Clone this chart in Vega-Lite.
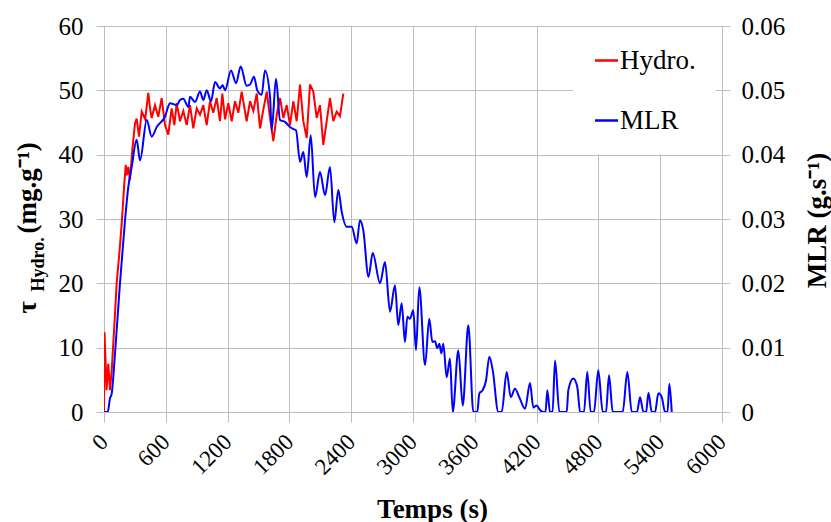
{
  "$schema": "https://vega.github.io/schema/vega-lite/v6.json",
  "width": 618,
  "height": 386,
  "autosize": {"type": "none"},
  "padding": {"left": 104, "top": 26, "right": 109, "bottom": 110},
  "background": "white",
  "config": {
    "font": "Liberation Serif",
    "view": {"stroke": null},
    "axis": {
      "gridColor": "#bdbdbd",
      "gridWidth": 1,
      "domainColor": "#bdbdbd",
      "tickColor": "#bdbdbd",
      "labelFont": "Liberation Serif",
      "labelColor": "#000000",
      "labelFontSize": 25,
      "titleFont": "Liberation Serif",
      "titleColor": "#000000",
      "titleFontSize": 27,
      "titleFontWeight": "bold"
    }
  },
  "datasets": {
    "hydro": [
      {"t": 0, "v": 0}, {"t": 5, "v": 12.4}, {"t": 25, "v": 3.4}, {"t": 41, "v": 7.5}, {"t": 58, "v": 3.4},
      {"t": 75, "v": 6.5}, {"t": 90, "v": 10.6}, {"t": 107, "v": 15.3}, {"t": 123, "v": 20}, {"t": 146, "v": 24.1},
      {"t": 172, "v": 29.3}, {"t": 197, "v": 35.5}, {"t": 211, "v": 38.4}, {"t": 220, "v": 36.8}, {"t": 236, "v": 38.1},
      {"t": 252, "v": 36}, {"t": 275, "v": 40.7}, {"t": 301, "v": 44.9}, {"t": 317, "v": 45.6}, {"t": 340, "v": 42.8},
      {"t": 366, "v": 46.7}, {"t": 400, "v": 45.5}, {"t": 430, "v": 49.6}, {"t": 447, "v": 47.2}, {"t": 463, "v": 45.7},
      {"t": 495, "v": 47.7}, {"t": 527, "v": 45.9}, {"t": 560, "v": 48.8}, {"t": 592, "v": 44.6}, {"t": 624, "v": 43.1},
      {"t": 657, "v": 47.2}, {"t": 683, "v": 44.6}, {"t": 706, "v": 48}, {"t": 738, "v": 45.2}, {"t": 770, "v": 46.8},
      {"t": 803, "v": 44.6}, {"t": 835, "v": 47.7}, {"t": 867, "v": 44.1}, {"t": 900, "v": 47.2}, {"t": 932, "v": 46.2},
      {"t": 964, "v": 47.7}, {"t": 997, "v": 44.6}, {"t": 1029, "v": 48.3}, {"t": 1061, "v": 46.5}, {"t": 1094, "v": 48.8},
      {"t": 1126, "v": 45.2}, {"t": 1149, "v": 49.5}, {"t": 1175, "v": 45.5}, {"t": 1207, "v": 48}, {"t": 1240, "v": 45.2},
      {"t": 1272, "v": 48.3}, {"t": 1304, "v": 46.5}, {"t": 1337, "v": 49.8}, {"t": 1369, "v": 46.7}, {"t": 1385, "v": 45.2},
      {"t": 1418, "v": 48.3}, {"t": 1450, "v": 46.8}, {"t": 1483, "v": 49.5}, {"t": 1515, "v": 44.1}, {"t": 1547, "v": 47},
      {"t": 1580, "v": 49.8}, {"t": 1612, "v": 45.7}, {"t": 1644, "v": 42.1}, {"t": 1677, "v": 46.2}, {"t": 1709, "v": 48.8},
      {"t": 1741, "v": 45.7}, {"t": 1774, "v": 47.7}, {"t": 1806, "v": 44.6}, {"t": 1838, "v": 48.3}, {"t": 1871, "v": 45.2},
      {"t": 1903, "v": 50.9}, {"t": 1935, "v": 45.2}, {"t": 1968, "v": 42.6}, {"t": 2000, "v": 50.9}, {"t": 2032, "v": 49.8},
      {"t": 2065, "v": 45.7}, {"t": 2097, "v": 47.7}, {"t": 2129, "v": 41.5}, {"t": 2162, "v": 45.2}, {"t": 2194, "v": 48.8},
      {"t": 2226, "v": 45.2}, {"t": 2259, "v": 46.7}, {"t": 2291, "v": 46.0}, {"t": 2323, "v": 49.5}
    ],
    "mlr": [
      {"t": 0, "v": 0}, {"t": 36, "v": 0}, {"t": 58, "v": 0.0021}, {"t": 75, "v": 0.0029}, {"t": 107, "v": 0.0091},
      {"t": 155, "v": 0.02}, {"t": 204, "v": 0.0298}, {"t": 236, "v": 0.035}, {"t": 269, "v": 0.0381}, {"t": 317, "v": 0.0423},
      {"t": 350, "v": 0.0391}, {"t": 415, "v": 0.0454}, {"t": 463, "v": 0.0428}, {"t": 512, "v": 0.0443}, {"t": 592, "v": 0.0459},
      {"t": 641, "v": 0.048}, {"t": 706, "v": 0.0477}, {"t": 738, "v": 0.0485}, {"t": 770, "v": 0.0487}, {"t": 819, "v": 0.0474},
      {"t": 835, "v": 0.049}, {"t": 884, "v": 0.0482}, {"t": 932, "v": 0.0498}, {"t": 964, "v": 0.0485}, {"t": 997, "v": 0.05},
      {"t": 1039, "v": 0.0483}, {"t": 1078, "v": 0.0513}, {"t": 1126, "v": 0.0503}, {"t": 1152, "v": 0.0508}, {"t": 1175, "v": 0.05},
      {"t": 1233, "v": 0.0531}, {"t": 1282, "v": 0.0511}, {"t": 1327, "v": 0.0537}, {"t": 1385, "v": 0.0507}, {"t": 1418, "v": 0.0509},
      {"t": 1456, "v": 0.0521}, {"t": 1488, "v": 0.05}, {"t": 1531, "v": 0.0493}, {"t": 1563, "v": 0.0531}, {"t": 1612, "v": 0.049},
      {"t": 1628, "v": 0.0438}, {"t": 1670, "v": 0.0518}, {"t": 1709, "v": 0.0454}, {"t": 1757, "v": 0.0451}, {"t": 1806, "v": 0.0443},
      {"t": 1835, "v": 0.044}, {"t": 1864, "v": 0.0438}, {"t": 1903, "v": 0.0389}, {"t": 1935, "v": 0.0404}, {"t": 1968, "v": 0.0365},
      {"t": 2007, "v": 0.043}, {"t": 2049, "v": 0.0334}, {"t": 2097, "v": 0.0373}, {"t": 2146, "v": 0.0337}, {"t": 2194, "v": 0.0381},
      {"t": 2236, "v": 0.0295}, {"t": 2275, "v": 0.0345}, {"t": 2308, "v": 0.0311}, {"t": 2356, "v": 0.0288}, {"t": 2405, "v": 0.0288},
      {"t": 2453, "v": 0.0262}, {"t": 2485, "v": 0.0298}, {"t": 2517, "v": 0.0283}, {"t": 2568, "v": 0.021}, {"t": 2609, "v": 0.0247},
      {"t": 2680, "v": 0.02}, {"t": 2728, "v": 0.0233}, {"t": 2777, "v": 0.0156}, {"t": 2825, "v": 0.0197}, {"t": 2857, "v": 0.0135},
      {"t": 2890, "v": 0.0169}, {"t": 2922, "v": 0.0109}, {"t": 2945, "v": 0.0148}, {"t": 2971, "v": 0.0145}, {"t": 3003, "v": 0.0158},
      {"t": 3029, "v": 0.0096}, {"t": 3061, "v": 0.0194}, {"t": 3117, "v": 0.0073}, {"t": 3158, "v": 0.0145}, {"t": 3188, "v": 0.0109},
      {"t": 3214, "v": 0.011}, {"t": 3236, "v": 0.0099}, {"t": 3256, "v": 0.0106}, {"t": 3275, "v": 0.0091}, {"t": 3294, "v": 0.0106},
      {"t": 3327, "v": 0.0054}, {"t": 3359, "v": 0.0083}, {"t": 3386, "v": 0}, {"t": 3440, "v": 0.0096}, {"t": 3483, "v": 0.001},
      {"t": 3537, "v": 0.0135}, {"t": 3586, "v": 0}, {"t": 3624, "v": 0}, {"t": 3644, "v": 0.0029}, {"t": 3677, "v": 0.0034},
      {"t": 3709, "v": 0.0049}, {"t": 3741, "v": 0.0086}, {"t": 3774, "v": 0.0065}, {"t": 3828, "v": 0}, {"t": 3861, "v": 0},
      {"t": 3910, "v": 0.0062}, {"t": 3949, "v": 0.0023}, {"t": 3990, "v": 0.0036}, {"t": 4032, "v": 0.0023}, {"t": 4088, "v": 0.0005},
      {"t": 4136, "v": 0.0045}, {"t": 4168, "v": 0.0007}, {"t": 4201, "v": 0.001}, {"t": 4233, "v": 0.0003}, {"t": 4265, "v": 0},
      {"t": 4287, "v": 0}, {"t": 4304, "v": 0.0034}, {"t": 4330, "v": 0}, {"t": 4355, "v": 0}, {"t": 4379, "v": 0.008},
      {"t": 4421, "v": 0}, {"t": 4492, "v": 0}, {"t": 4508, "v": 0.0034}, {"t": 4556, "v": 0.0052}, {"t": 4595, "v": 0.0039},
      {"t": 4622, "v": 0}, {"t": 4660, "v": 0}, {"t": 4692, "v": 0.0062}, {"t": 4725, "v": 0}, {"t": 4757, "v": 0},
      {"t": 4799, "v": 0.0065}, {"t": 4842, "v": 0}, {"t": 4874, "v": 0}, {"t": 4903, "v": 0.0057}, {"t": 4939, "v": 0},
      {"t": 5036, "v": 0}, {"t": 5081, "v": 0.0062}, {"t": 5124, "v": 0}, {"t": 5175, "v": 0}, {"t": 5204, "v": 0.0023},
      {"t": 5237, "v": 0}, {"t": 5263, "v": 0}, {"t": 5286, "v": 0.003}, {"t": 5318, "v": 0}, {"t": 5350, "v": 0},
      {"t": 5382, "v": 0.0029}, {"t": 5415, "v": 0.0023}, {"t": 5447, "v": 0}, {"t": 5471, "v": 0}, {"t": 5489, "v": 0.0044},
      {"t": 5512, "v": 0}
    ]
  },
  "encoding": {
    "x": {
      "field": "t",
      "type": "quantitative",
      "title": "Temps (s)",
      "scale": {"domain": [0, 6000], "nice": false, "zero": true},
      "axis": {
        "values": [0, 600, 1200, 1800, 2400, 3000, 3600, 4200, 4800, 5400, 6000],
        "format": "d",
        "grid": true,
        "labelAngle": -45,
        "labelAlign": "right",
        "labelBaseline": "middle",
        "labelFontSize": 23,
        "tickSize": 10,
        "labelPadding": 16,
        "labelFlush": false,
        "labelOverlap": false,
        "titleX": 328,
        "titleY": 105,
        "titleBaseline": "alphabetic",
        "titleAlign": "center"
      }
    }
  },
  "layer": [
    {
      "data": {"name": "hydro"},
      "mark": {"type": "line", "strokeWidth": 2, "clip": true},
      "encoding": {
        "y": {
          "field": "v",
          "type": "quantitative",
          "scale": {"domain": [0, 60], "nice": false},
          "axis": {
            "orient": "left",
            "values": [0, 10, 20, 30, 40, 50, 60],
            "grid": true,
            "tickSize": 8,
            "labelPadding": 13,
            "title": "τ\u2003\u2003\u2002(mg.g⁻¹)",
            "titleAngle": -90,
            "titleAlign": "left",
            "titleBaseline": "alphabetic",
            "titleX": -69,
            "titleY": 287
          }
        },
        "color": {
          "datum": "Hydro.",
          "type": "nominal",
          "scale": {"domain": ["Hydro.", "MLR"], "range": ["#ff0000", "#0000ff"]},
          "legend": {
            "title": null,
            "orient": "none",
            "legendX": 469,
            "legendY": 1,
            "fillColor": "white",
            "padding": 20,
            "symbolType": "stroke",
            "symbolSize": 529,
            "symbolStrokeWidth": 2.5,
            "labelFont": "Liberation Serif",
            "labelFontSize": 27,
            "labelColor": "#000000",
            "labelOffset": 0,
            "rowPadding": 32
          }
        }
      }
    },
    {
      "data": {"name": "mlr"},
      "mark": {"type": "line", "strokeWidth": 2, "interpolate": "monotone", "clip": true},
      "encoding": {
        "y": {
          "field": "v",
          "type": "quantitative",
          "scale": {"domain": [0, 0.06], "nice": false},
          "axis": {
            "orient": "right",
            "values": [0, 0.01, 0.02, 0.03, 0.04, 0.05, 0.06],
            "labelExpr": "datum.value == 0 ? '0' : format(datum.value, '.2f')",
            "grid": false,
            "domain": false,
            "tickSize": 8,
            "labelPadding": 11,
            "title": "MLR (g.s⁻¹)",
            "titleAngle": -90,
            "titleAlign": "center",
            "titleBaseline": "alphabetic",
            "titleX": 103,
            "titleY": 194
          }
        },
        "color": {"datum": "MLR", "type": "nominal"}
      }
    },
    {
      "data": {"name": "hydro"},
      "mark": {"type": "line", "strokeOpacity": 0, "clip": true},
      "encoding": {
        "y": {
          "field": "v",
          "type": "quantitative",
          "scale": {"domain": [0, 60], "nice": false},
          "axis": {
            "orient": "left",
            "grid": false,
            "labels": false,
            "ticks": false,
            "domain": false,
            "title": "Hydro.",
            "titleFontSize": 18,
            "titleAngle": -90,
            "titleAlign": "left",
            "titleBaseline": "alphabetic",
            "titleX": -61,
            "titleY": 265
          }
        }
      }
    }
  ],
  "resolve": {"scale": {"y": "independent"}, "axis": {"y": "independent"}}
}
